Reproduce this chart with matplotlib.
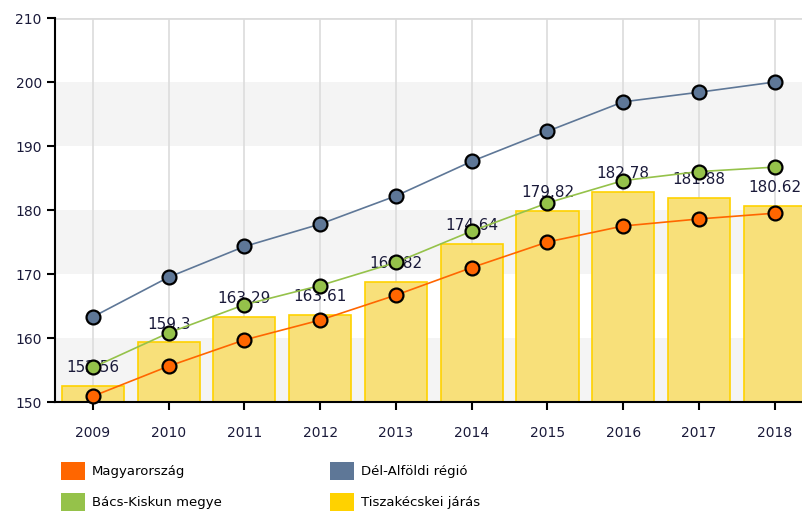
import matplotlib.pyplot as plt
from matplotlib.patches import Patch

years = [2009, 2010, 2011, 2012, 2013, 2014, 2015, 2016, 2017, 2018]
magyarorszag = [150.9, 155.6, 159.7, 162.8, 166.7, 171.0, 175.0, 177.5, 178.6, 179.5]
del_alfold = [163.3, 169.5, 174.3, 177.8, 182.2, 187.6, 192.3, 196.9, 198.4, 200.0]
bacs_kiskun = [155.4, 160.8, 165.2, 168.2, 171.8, 176.7, 181.1, 184.6, 186.0, 186.7]
tiszakecske = [152.56, 159.3, 163.29, 163.61, 168.82, 174.64, 179.82, 182.78, 181.88, 180.62]
names = ['Magyarország', 'Bács-Kiskun megye', 'Dél-Alföldi régió', 'Tiszakécskei járás']

c_orange = '#ff6600'
c_blue = '#5e7797'
c_green = '#95c24a'
c_yellow = '#ffd200'

fig = plt.figure(figsize=(8.02, 5.13), dpi=100)
ax = fig.add_axes([55/802, 1-402/513, 1-55/802, (402-18)/513])

# alternating bands
for lo in (150, 170, 190):
    ax.axhspan(lo, lo+10, color='#f4f4f4', zorder=0, lw=0)
for yr in years:
    ax.axvline(yr, color='#dcdcdc', lw=1.2, zorder=0.5)
ax.axhline(210, color='#dcdcdc', lw=2, zorder=0.5)

ax.bar(years, [v-150 for v in tiszakecske], bottom=150, width=0.82,
       color='#f8e07a', edgecolor=c_yellow, lw=1.2, zorder=1)
for x, v in zip(years, tiszakecske):
    ax.text(x, v + 1.7, f'{v:g}', ha='center', va='bottom', fontsize=11,
            color='#1a1a3a', zorder=2)

for vals, col in ((magyarorszag, c_orange), (del_alfold, c_blue), (bacs_kiskun, c_green)):
    ax.plot(years, vals, color=col, lw=1.2, zorder=3,
            marker='o', ms=10, mfc=col, mec='black', mew=1.6, clip_on=False)

ax.set_xlim(2008.5, 2018.36)
ax.set_ylim(150, 210)
ax.set_yticks(range(150, 211, 10))
ax.set_xticks(years)
for s in ('top', 'right'):
    ax.spines[s].set_visible(False)
ax.spines['left'].set_linewidth(1.5)
ax.spines['bottom'].set_linewidth(1.5)
ax.tick_params(length=6, width=1.5, labelsize=10, labelcolor='#1a1a3a')
ax.tick_params(axis='x', pad=11)

handles = [Patch(facecolor=c, edgecolor='none') for c in (c_orange, c_green, c_blue, c_yellow)]
fig.legend(handles, names, ncol=2, loc='upper left', bbox_to_anchor=(61/802, 1-462/513),
           frameon=False, fontsize=9.5, handlelength=1.85, handleheight=1.75,
           columnspacing=8.2, labelspacing=0.95, handletextpad=0.5, borderaxespad=0,
           borderpad=0)

fig.savefig('out.png', dpi=100)
